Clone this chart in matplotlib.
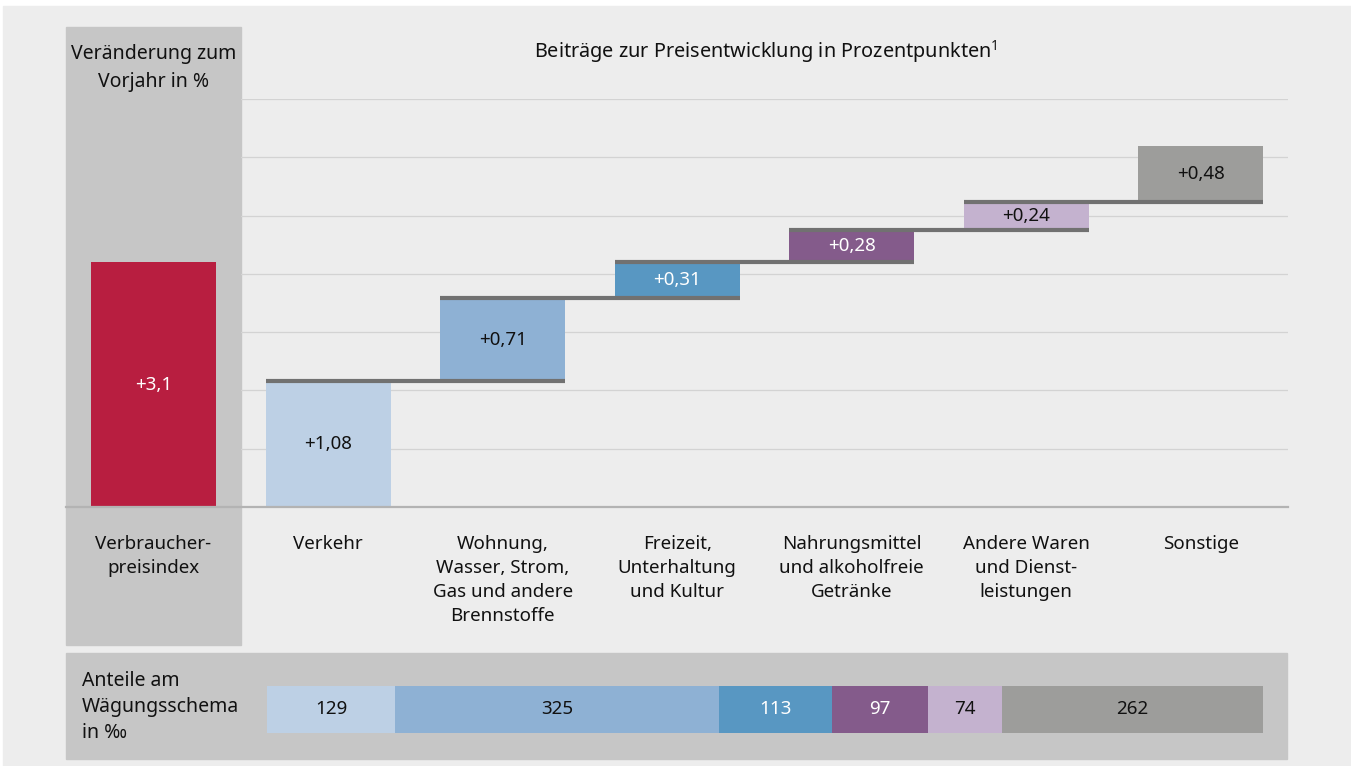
import matplotlib
matplotlib.use("Agg")
import matplotlib.pyplot as plt
from matplotlib.patches import Rectangle
import numpy as np

plt.rcParams['font.family'] = ['Noto Sans', 'DejaVu Sans']
plt.rcParams['mathtext.fontset'] = 'custom'
plt.rcParams['mathtext.rm'] = 'Noto Sans'

# data
cpi_label = "Verbraucher-\npreisindex"
cpi_value = 3.1
categories = ["Verkehr",
              "Wohnung,\nWasser, Strom,\nGas und andere\nBrennstoffe",
              "Freizeit,\nUnterhaltung\nund Kultur",
              "Nahrungsmittel\nund alkoholfreie\nGetränke",
              "Andere Waren\nund Dienst-\nleistungen",
              "Sonstige"]
contrib = [1.08, 0.71, 0.31, 0.28, 0.24, 0.48]
contrib_labels = ["+1,08", "+0,71", "+0,31", "+0,28", "+0,24", "+0,48"]
weights = [129, 325, 113, 97, 74, 262]

colors = ["#bdd0e5", "#8eb1d4", "#5897c2", "#845b8b", "#c4b2cf", "#9d9d9b"]
txt_colors = ["#111111", "#111111", "white", "white", "#111111", "#111111"]
red = "#b81e40"
bg = "#ededed"
panel = "#c6c6c6"

W, H = 1351, 766

def box(x0, y0, x1, y1):
    # pixel box (top-left origin) -> figure fraction
    return [x0 / W, 1 - y1 / H, (x1 - x0) / W, (y1 - y0) / H]

def fx(x):
    return x / W

def fy(y):
    return 1 - y / H

fig = plt.figure(figsize=(W / 100, H / 100), dpi=100, facecolor="white")

# backgrounds
fig.patches.append(Rectangle((fx(3), 0), 1, fy(6), transform=fig.transFigure,
                             color=bg, zorder=-3))
fig.patches.append(Rectangle((fx(66), fy(645)), fx(241) - fx(66), fy(27) - fy(645),
                             transform=fig.transFigure, color=panel, zorder=-2))
fig.patches.append(Rectangle((fx(66), fy(759)), fx(1287) - fx(66), fy(653) - fy(759),
                             transform=fig.transFigure, color=panel, zorder=-2))

# left panel: CPI bar
axl = fig.add_axes(box(66, 99, 241, 507))
axl.set_facecolor("none")
axl.bar(0, cpi_value, width=0.714, color=red)
axl.text(0, cpi_value / 2, "+3,1", ha="center", va="center", color="white", fontsize=13.5)
axl.set_xlim(-0.5, 0.5)
axl.set_ylim(0, cpi_value * 408 / 245)
axl.axis("off")

# main waterfall
ax = fig.add_axes(box(241, 99, 1288, 507))
ax.set_facecolor("none")
x = np.arange(len(contrib))
bw = 0.716
cum = np.cumsum(contrib)
bottoms = cum - np.array(contrib)
for yv in np.arange(0.5, 3.51, 0.5):
    ax.axhline(yv, color="#d3d3d3", lw=0.9, zorder=0)
ax.bar(x, contrib, bottom=bottoms, width=bw, color=colors, zorder=2)
for i in range(len(contrib) - 1):
    ax.plot([i - bw / 2, i + 1 + bw / 2], [cum[i], cum[i]], color="#717171",
            lw=3, solid_capstyle="butt", zorder=3)
for i in range(len(contrib)):
    ax.text(x[i], bottoms[i] + contrib[i] / 2, contrib_labels[i], ha="center",
            va="center", color=txt_colors[i], fontsize=13.5, zorder=4)
ax.set_xlim(-0.5, 5.5)
ax.set_ylim(0, 3.5)
ax.axis("off")

# baseline
fig.add_artist(plt.Line2D([fx(66), fx(1288)], [fy(507), fy(507)], color="#b3b3b3",
                          lw=1.6, transform=fig.transFigure))

# headers
fig.text(fx(153.5), fy(68), "Veränderung zum\nVorjahr in %", ha="center", va="center",
         fontsize=14, color="#111111", linespacing=1.5)
fig.text(fx(766), fy(52), "Beiträge zur Preisentwicklung in Prozentpunkten$^{1}$",
         ha="center", va="center", fontsize=14.3, color="#111111")

# category labels
fig.text(fx(153.5), fy(535), cpi_label, ha="center", va="top", fontsize=13.5,
         color="#111111", linespacing=1.42)
for i, c in enumerate(categories):
    xc = 241 + (i + 0.5) * 1047 / 6
    fig.text(fx(xc), fy(535), c, ha="center", va="top", fontsize=13.5,
             color="#111111", linespacing=1.42)

# weights strip
axw = fig.add_axes(box(267, 686, 1263, 733))
axw.set_facecolor("none")
lefts = np.cumsum(weights) - np.array(weights)
axw.barh(0, weights, left=lefts, height=1, color=colors)
for i, wv in enumerate(weights):
    axw.text(lefts[i] + wv / 2, 0, str(wv), ha="center", va="center",
             color=txt_colors[i], fontsize=13.5)
axw.set_xlim(0, sum(weights))
axw.set_ylim(-0.5, 0.5)
axw.axis("off")

fig.text(fx(82), fy(707), "Anteile am\nWägungsschema\nin ‰", ha="left", va="center",
         fontsize=14, color="#111111", linespacing=1.4)

fig.savefig("out.png", dpi=100, facecolor=fig.get_facecolor())
